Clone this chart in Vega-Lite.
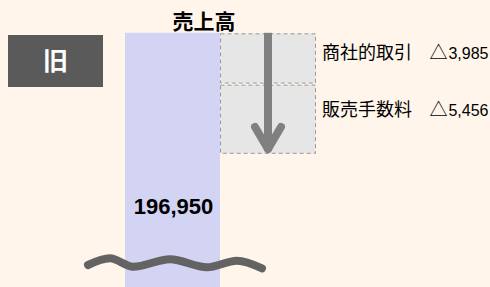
{
  "$schema": "https://vega.github.io/schema/vega-lite/v6.json",
  "width": 490,
  "height": 287,
  "padding": 0,
  "autosize": {"type": "none"},
  "background": "#fff5eb",
  "config": {"view": {"stroke": null}, "axis": {"disable": true}, "text": {"font": "Noto Sans CJK JP"}},
  "datasets": {
    "sales": [{"item": "売上高", "period": "旧", "value": 196950}],
    "deductions": [
      {"item": "商社的取引", "amount": 3985, "start": 196950, "end": 192965},
      {"item": "販売手数料", "amount": 5456, "start": 192965, "end": 187509}
    ],
    "wave": [
      {"x": 88, "y": 178910},
      {"x": 110, "y": 179430},
      {"x": 133, "y": 178777},
      {"x": 170, "y": 179352},
      {"x": 207, "y": 178731},
      {"x": 237, "y": 179244},
      {"x": 262, "y": 178653}
    ]
  },
  "layer": [
    {
      "data": {"name": "sales"},
      "mark": {"type": "rect", "fill": "#5a5a5a"},
      "encoding": {
        "x": {"datum": 8, "type": "quantitative", "scale": {"domain": [0, 490], "nice": false, "zero": false}},
        "x2": {"datum": 103},
        "y": {"datum": 196780, "type": "quantitative", "scale": {"domain": [177200, 199500], "nice": false, "zero": false}},
        "y2": {"datum": 192740}
      }
    },
    {
      "data": {"name": "sales"},
      "mark": {"type": "text", "color": "#ffffff", "fontSize": 25, "fontWeight": "bold", "align": "center", "baseline": "middle"},
      "encoding": {
        "x": {"datum": 55.5, "type": "quantitative", "scale": {"domain": [0, 490], "nice": false, "zero": false}},
        "y": {"datum": 194683, "type": "quantitative", "scale": {"domain": [177200, 199500], "nice": false, "zero": false}},
        "text": {"field": "period"}
      }
    },
    {
      "data": {"name": "sales"},
      "mark": {"type": "rect", "fill": "#d3d3f3", "clip": true},
      "encoding": {
        "x": {"datum": 125, "type": "quantitative", "scale": {"domain": [0, 490], "nice": false, "zero": false}},
        "x2": {"datum": 220},
        "y": {"field": "value", "type": "quantitative", "scale": {"domain": [177200, 199500], "nice": false, "zero": false}},
        "y2": {"datum": 170000}
      }
    },
    {
      "data": {"name": "deductions"},
      "mark": {"type": "rect", "fill": "#e6e6e6", "stroke": "#9a9a9a", "strokeWidth": 1, "strokeDash": [4, 3], "yOffset": 1, "y2Offset": -1},
      "encoding": {
        "x": {"datum": 220.5, "type": "quantitative", "scale": {"domain": [0, 490], "nice": false, "zero": false}},
        "x2": {"datum": 315.5},
        "y": {"field": "start", "type": "quantitative", "scale": {"domain": [177200, 199500], "nice": false, "zero": false}},
        "y2": {"field": "end"}
      }
    },
    {
      "data": {"name": "sales"},
      "mark": {"type": "rule", "color": "#808080", "strokeWidth": 8, "strokeCap": "butt"},
      "encoding": {
        "x": {"datum": 268, "type": "quantitative", "scale": {"domain": [0, 490], "nice": false, "zero": false}},
        "y": {"field": "value", "type": "quantitative", "scale": {"domain": [177200, 199500], "nice": false, "zero": false}},
        "y2": {"datum": 188200}
      }
    },
    {
      "data": {"name": "sales"},
      "mark": {"type": "rule", "color": "#808080", "strokeWidth": 8, "strokeCap": "round"},
      "encoding": {
        "x": {"datum": 255, "type": "quantitative", "scale": {"domain": [0, 490], "nice": false, "zero": false}},
        "x2": {"datum": 268},
        "y": {"datum": 189632, "type": "quantitative", "scale": {"domain": [177200, 199500], "nice": false, "zero": false}},
        "y2": {"datum": 187923}
      }
    },
    {
      "data": {"name": "sales"},
      "mark": {"type": "rule", "color": "#808080", "strokeWidth": 8, "strokeCap": "round"},
      "encoding": {
        "x": {"datum": 281, "type": "quantitative", "scale": {"domain": [0, 490], "nice": false, "zero": false}},
        "x2": {"datum": 268},
        "y": {"datum": 189632, "type": "quantitative", "scale": {"domain": [177200, 199500], "nice": false, "zero": false}},
        "y2": {"datum": 187923}
      }
    },
    {
      "data": {"name": "sales"},
      "mark": {"type": "text", "color": "#000000", "fontSize": 21, "fontWeight": "bold", "align": "center", "baseline": "middle", "dy": -10.3},
      "encoding": {
        "x": {"datum": 204, "type": "quantitative", "scale": {"domain": [0, 490], "nice": false, "zero": false}},
        "y": {"field": "value", "type": "quantitative", "scale": {"domain": [177200, 199500], "nice": false, "zero": false}},
        "text": {"field": "item"}
      }
    },
    {
      "data": {"name": "sales"},
      "mark": {"type": "text", "color": "#000000", "fontSize": 22, "fontWeight": "bold", "align": "center", "baseline": "middle", "dy": 174.2, "font": "Liberation Sans"},
      "encoding": {
        "x": {"datum": 173.5, "type": "quantitative", "scale": {"domain": [0, 490], "nice": false, "zero": false}},
        "y": {"field": "value", "type": "quantitative", "scale": {"domain": [177200, 199500], "nice": false, "zero": false}},
        "text": {"field": "value", "format": ","}
      }
    },
    {
      "data": {"name": "deductions"},
      "transform": [{"filter": "datum.item === '商社的取引'"}],
      "encoding": {
        "y": {"field": "start", "type": "quantitative", "scale": {"domain": [177200, 199500], "nice": false, "zero": false}}
      },
      "layer": [
        {
          "mark": {"type": "text", "color": "#000000", "fontSize": 18, "align": "left", "baseline": "middle", "dy": 21.2},
          "encoding": {"x": {"datum": 322, "type": "quantitative", "scale": {"domain": [0, 490], "nice": false, "zero": false}}, "text": {"field": "item"}}
        },
        {
          "mark": {"type": "text", "color": "#000000", "fontSize": 18, "align": "center", "baseline": "middle", "dy": 21.2},
          "encoding": {"x": {"datum": 438.5, "type": "quantitative", "scale": {"domain": [0, 490], "nice": false, "zero": false}}, "text": {"value": "△"}}
        },
        {
          "mark": {"type": "text", "color": "#000000", "fontSize": 16, "align": "right", "baseline": "middle", "dy": 21.2, "font": "Liberation Sans"},
          "encoding": {"x": {"datum": 488.5, "type": "quantitative", "scale": {"domain": [0, 490], "nice": false, "zero": false}}, "text": {"field": "amount", "format": ","}}
        }
      ]
    },
    {
      "data": {"name": "deductions"},
      "transform": [{"filter": "datum.item === '販売手数料'"}],
      "encoding": {
        "y": {"field": "start", "type": "quantitative", "scale": {"domain": [177200, 199500], "nice": false, "zero": false}}
      },
      "layer": [
        {
          "mark": {"type": "text", "color": "#000000", "fontSize": 18, "align": "left", "baseline": "middle", "dy": 26.4},
          "encoding": {"x": {"datum": 322, "type": "quantitative", "scale": {"domain": [0, 490], "nice": false, "zero": false}}, "text": {"field": "item"}}
        },
        {
          "mark": {"type": "text", "color": "#000000", "fontSize": 18, "align": "center", "baseline": "middle", "dy": 26.4},
          "encoding": {"x": {"datum": 438.5, "type": "quantitative", "scale": {"domain": [0, 490], "nice": false, "zero": false}}, "text": {"value": "△"}}
        },
        {
          "mark": {"type": "text", "color": "#000000", "fontSize": 16, "align": "right", "baseline": "middle", "dy": 26.4, "font": "Liberation Sans"},
          "encoding": {"x": {"datum": 488.5, "type": "quantitative", "scale": {"domain": [0, 490], "nice": false, "zero": false}}, "text": {"field": "amount", "format": ","}}
        }
      ]
    },
    {
      "data": {"name": "wave"},
      "mark": {"type": "line", "color": "#636363", "strokeWidth": 8, "strokeCap": "round", "interpolate": "monotone"},
      "encoding": {
        "x": {"field": "x", "type": "quantitative", "scale": {"domain": [0, 490], "nice": false, "zero": false}},
        "y": {"field": "y", "type": "quantitative", "scale": {"domain": [177200, 199500], "nice": false, "zero": false}}
      }
    }
  ]
}
